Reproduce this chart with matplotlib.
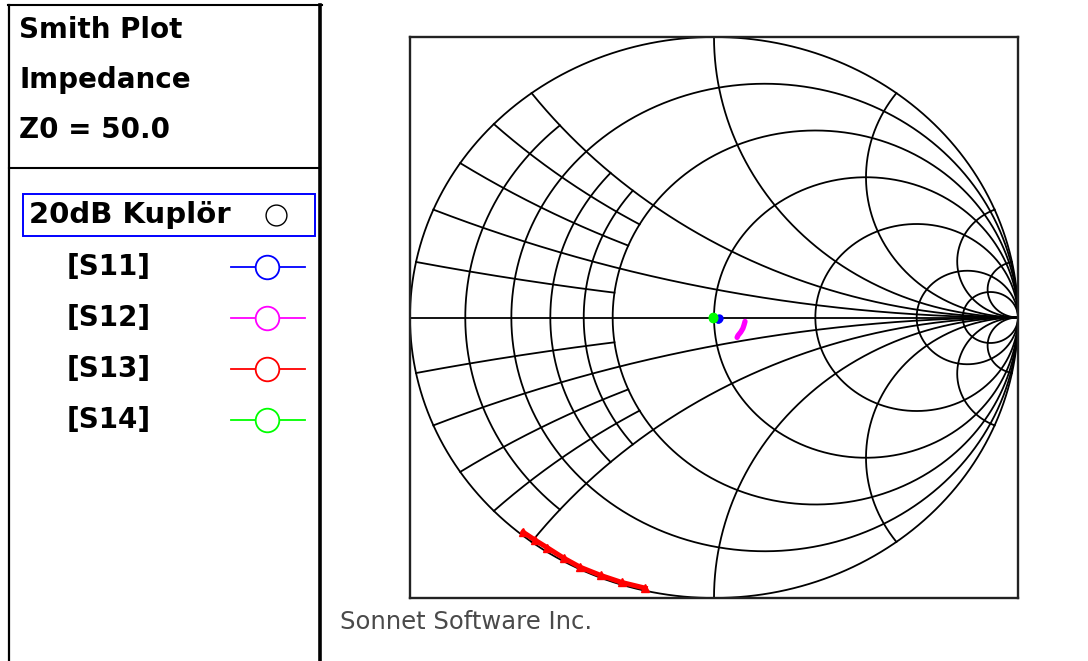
import numpy as np
import matplotlib
matplotlib.use("Agg")
import matplotlib.pyplot as plt
from matplotlib.patches import Rectangle

# S-parameter traces (reflection plane), one entry per frequency point
s11_re = [0.013, 0.015, 0.012]
s11_im = [-0.004, -0.002, -0.006]
s12_re = [0.102, 0.099, 0.095, 0.088, 0.079, 0.076]
s12_im = [-0.014, -0.026, -0.039, -0.052, -0.064, -0.071]
s13_mag = [0.990, 0.988, 0.987, 0.990, 0.993, 0.992, 0.992, 0.991]
s13_ang = [-129.4, -126.5, -123.8, -120.0, -116.3, -112.0, -107.8, -103.2]
s14_re = [-0.003, -0.004]
s14_im = [0.000, 0.002]

trace_names = ["[S11]", "[S12]", "[S13]", "[S14]"]
trace_colors = ["#0000ff", "#ff00ff", "#ff0000", "#00ff00"]

# chart grid: full circles/arcs and the short ones near the left edge
full_r = [0.2, 0.5, 1.0, 2.0, 5.0, 10.0]
part_r = [0.1, 0.3, 0.4]
full_x = [0.2, 0.5, 1.0, 2.0, 5.0, 10.0]
part_x = [0.1, 0.3, 0.4]
part_limit = 0.5


def gamma(z):
    return (z - 1) / (z + 1)


def r_circle(r):
    phi = np.linspace(0, 2 * np.pi, 1200)
    c = r / (1 + r)
    rad = 1 / (1 + r)
    return c + rad * np.cos(phi), rad * np.sin(phi)


def r_segment(r, xmax):
    x = np.linspace(-xmax, xmax, 400)
    g = gamma(r + 1j * x)
    return g.real, g.imag


def x_arc(x, rmax=None):
    if rmax is None:
        r = np.tan(np.linspace(0, np.pi / 2, 1500)[:-1])
        g = np.append(gamma(r + 1j * x), 1 + 0j)
    else:
        r = np.linspace(0, rmax, 400)
        g = gamma(r + 1j * x)
    return g.real, g.imag


W, H = 1088, 661
fig = plt.figure(figsize=(W / 100, H / 100), dpi=100)
fig.patch.set_facecolor("white")

# left info panel, laid out in pixel units
panel = fig.add_axes([0, 0, 1, 1])
panel.set_xlim(0, W)
panel.set_ylim(H, 0)
panel.set_axis_off()
panel.plot([8, 322], [5, 5], color="black", lw=1.5)
panel.plot([9, 9], [5, H], color="black", lw=1.6)
panel.plot([320, 320], [5, H], color="black", lw=2.6)
panel.plot([9, 320], [168, 168], color="black", lw=1.5)

title_font = dict(fontsize=20, fontweight="bold", color="black", va="center")
panel.text(19, 30, "Smith Plot", **title_font)
panel.text(19, 80, "Impedance", **title_font)
panel.text(19, 130, "Z0 = 50.0", **title_font)

panel.add_patch(Rectangle((23, 194), 292, 42, fill=False,
                          edgecolor="#0000ff", lw=1.4))
panel.text(29, 215, "20dB Kuplör", fontsize=21, fontweight="bold",
           color="black", va="center")
panel.plot([276], [215], marker="o", ms=15, mfc="white", mec="black", mew=1.0)

for i, (name, col) in enumerate(zip(trace_names, trace_colors)):
    y = 267 + i * 51
    panel.text(67, y, name, **title_font)
    panel.plot([231, 305], [y, y], color=col, lw=1.3)
    panel.plot([267], [y], marker="o", ms=17, mfc="white", mec=col, mew=1.3)

panel.text(340, 622, "Sonnet Software Inc.", fontsize=17.5, color="#4a4a4a",
           va="center")

# Smith chart axes
ax = fig.add_axes([410 / W, (H - 598) / H, 608 / W, 561 / H])
ax.set_xlim(-1, 1)
ax.set_ylim(-1, 1)
ax.set_xticks([])
ax.set_yticks([])
for s in ax.spines.values():
    s.set_linewidth(1.7)
    s.set_color("#222222")

grid_kw = dict(color="black", lw=1.3, clip_on=False, zorder=2)
ax.plot(*r_circle(0.0), **grid_kw)
ax.plot([-1, 1], [0, 0], **grid_kw)
for r in full_r:
    ax.plot(*r_circle(r), **grid_kw)
for r in part_r:
    ax.plot(*r_segment(r, part_limit), **grid_kw)
for x in full_x:
    for sgn in (1, -1):
        ax.plot(*x_arc(sgn * x), **grid_kw)
for x in part_x:
    for sgn in (1, -1):
        ax.plot(*x_arc(sgn * x, part_limit), **grid_kw)

# traces
s13 = np.array(s13_mag) * np.exp(1j * np.deg2rad(s13_ang))
ax.plot(s13.real, s13.imag, color=trace_colors[2], lw=3.6, marker="^",
        ms=6, zorder=5, clip_on=False)
ax.plot(s12_re, s12_im, color=trace_colors[1], lw=3.8, solid_capstyle="round",
        zorder=5)
ax.plot(s11_re, s11_im, color=trace_colors[0], lw=3, marker="o", ms=5,
        zorder=6)
ax.plot(s14_re, s14_im, color=trace_colors[3], lw=3, marker="o", ms=6,
        zorder=7)

fig.savefig("out.png", dpi=100)
